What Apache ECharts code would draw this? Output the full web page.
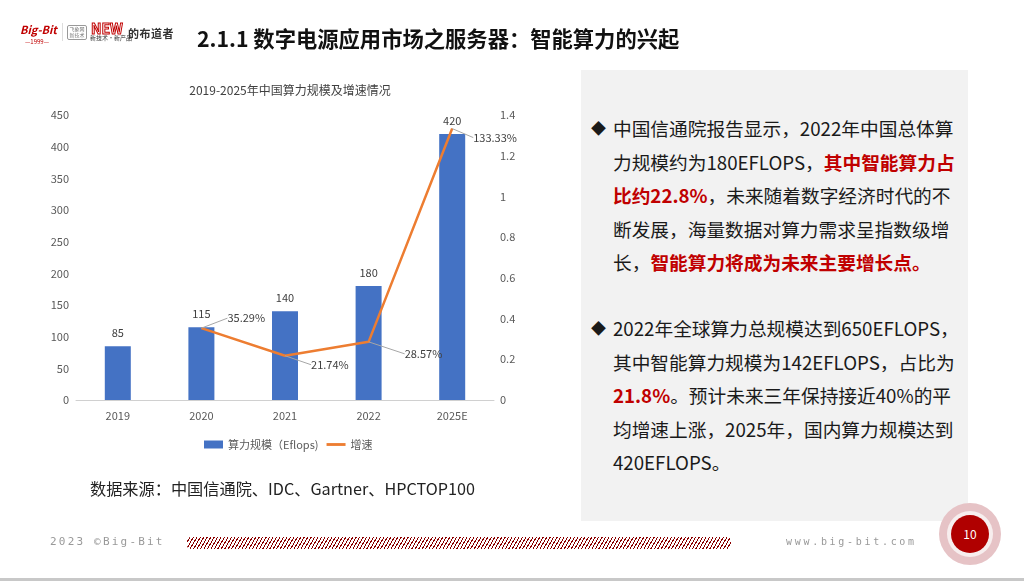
<!DOCTYPE html>
<html><head><meta charset="utf-8">
<script src="https://cdn.jsdelivr.net/npm/echarts@6/dist/echarts.min.js"></script>
<style>
html,body{margin:0;padding:0;width:1024px;height:581px;overflow:hidden;background:#fff;font-family:"Noto Sans CJK SC","Noto Sans",sans-serif;}
#chart{position:absolute;left:0;top:0;width:1024px;height:581px;}
.abs{position:absolute;white-space:nowrap;}
#panel{position:absolute;left:581px;top:70px;width:387px;height:451px;background:#f2f2f2;}
.para{position:absolute;left:32px;font-size:18.7px;line-height:33.5px;color:#1a1a1a;white-space:nowrap;}
.bul{position:absolute;left:-22px;top:0;font-size:15px;}
.red{color:#c00000;font-weight:bold;}
</style></head><body>
<div id="chart"></div>
<!-- header -->
<div class="abs" style="left:20px;top:21px;font-size:11px;font-weight:bold;color:#c00000;font-style:italic;">Big-Bit</div>
<div class="abs" style="left:25px;top:37px;font-size:6px;color:#c00000;">—1999—</div>
<div class="abs" style="left:62px;top:23px;width:1px;height:18px;background:#ddd;"></div>
<div class="abs" style="left:67px;top:25px;width:18px;height:13px;border:1px solid #999;border-radius:2px;font-size:5px;color:#777;line-height:6px;text-align:center;">飞象网<br>新技术</div>
<div class="abs" style="left:91px;top:18px;font-size:14px;font-weight:bold;color:#fff;-webkit-text-stroke:1px #c00000;">NEW</div>
<div class="abs" style="left:90px;top:33px;font-size:6px;color:#333;">新技术·新产品</div>
<div class="abs" style="left:128px;top:25px;font-size:11px;color:#333;font-weight:bold;letter-spacing:0.5px;">的布道者</div>
<div class="abs" style="left:197px;top:22px;font-size:21.3px;font-weight:bold;color:#111;">2.1.1 数字电源应用市场之服务器：智能算力的兴起</div>
<!-- panel -->
<div id="panel">
 <div class="para" style="top:41px;"><span class="bul">◆</span>中国信通院报告显示，2022年中国总体算<br>力规模约为180EFLOPS，<span class="red">其中智能算力占</span><br><span class="red">比约22.8%</span>，未来随着数字经济时代的不<br>断发展，海量数据对算力需求呈指数级增<br>长，<span class="red">智能算力将成为未来主要增长点。</span></div>
 <div class="para" style="top:241px;"><span class="bul">◆</span>2022年全球算力总规模达到650EFLOPS，<br>其中智能算力规模为142EFLOPS，占比为<br><span class="red">21.8%</span>。预计未来三年保持接近40%的平<br>均增速上涨，2025年，国内算力规模达到<br>420EFLOPS。</div>
</div>
<div class="abs" style="left:90px;top:476px;font-size:16.2px;color:#222;">数据来源：中国信通院、IDC、Gartner、HPCTOP100</div>
<!-- footer -->
<div class="abs" style="left:50px;top:535px;font-size:11px;color:#999;letter-spacing:2.2px;font-family:'DejaVu Sans Mono',monospace;">2023 ©Big-Bit</div>
<div class="abs" style="left:187px;top:537px;width:544px;height:12px;border-radius:4px;background:repeating-linear-gradient(-60deg,#8b0000 0 1px,#fff 1px 3px);"></div>
<div class="abs" style="left:786px;top:536px;font-size:10px;color:#999;letter-spacing:2.7px;font-family:'DejaVu Sans Mono',monospace;">www.big-bit.com</div>
<div class="abs" style="left:939px;top:503px;width:62px;height:62px;border-radius:50%;background:#e6c3c6;"></div>
<div class="abs" style="left:947px;top:511px;width:46px;height:46px;border-radius:50%;background:#f7eeee;"></div>
<div class="abs" style="left:951px;top:515px;width:38px;height:38px;border-radius:50%;background:#b00000;color:#fff;font-size:12px;line-height:38px;text-align:center;">10</div>
<div class="abs" style="left:0;top:578px;width:1024px;height:3px;background:#c8c8c8;"></div>
<script>
var categories = ['2019','2020','2021','2022','2025E'];
var scaleValues = [85, 115, 140, 180, 420];
var growthValues = [null, 0.3529, 0.2174, 0.2857, 1.3333];
var leftTicks = [0,50,100,150,200,250,300,350,400,450];
var rightTicks = [0,0.2,0.4,0.6,0.8,1,1.2,1.4];
var labelShift = [[0,0],[22,-10],[22,9],[32,12],[17,9]];

var chart = echarts.init(document.getElementById('chart'));
var txt = '#595959';
chart.setOption({
  animation:false,
  textStyle:{fontFamily:'"Noto Sans CJK SC","Noto Sans",sans-serif'},
  title:{text:'2019-2025年中国算力规模及增速情况',left:285,top:79,textAlign:'center',
    textStyle:{fontSize:12,fontWeight:'normal',color:'#404040'}},
  legend:{top:434,left:199,itemGap:8,itemWidth:19,itemHeight:8,
    textStyle:{fontSize:11,color:txt},
    data:[{name:'算力规模（Eflops)',icon:'rect'},
          {name:'增速',icon:'path://M0,0 L20,0 L20,3 L0,3 Z',itemStyle:{color:'#ED7D31'}}]},
  grid:{left:76,right:530,top:115,bottom:181},
  xAxis:{type:'category',data:categories,
    axisLine:{lineStyle:{color:'#d0d0d0'}},axisTick:{show:false},
    axisLabel:{color:txt,fontSize:11,margin:10}},
  yAxis:[
    {type:'value',min:0,max:450,interval:50,splitLine:{show:false},
     axisLine:{show:false},axisTick:{show:false},
     axisLabel:{color:txt,fontSize:11,margin:7}},
    {type:'value',min:0,max:1.4,interval:0.2,splitLine:{show:false},
     axisLine:{show:false},axisTick:{show:false},
     axisLabel:{color:txt,fontSize:11,margin:6,align:'left',
       formatter:function(v){return String(+v.toFixed(1));}}}
  ],
  series:[
    {name:'算力规模（Eflops)',type:'bar',data:scaleValues,barWidth:26,
     itemStyle:{color:'#4472C4'},
     label:{show:true,position:'top',distance:8,color:'#404040',fontSize:11}},
    {name:'增速',type:'line',yAxisIndex:1,data:growthValues,symbol:'circle',symbolSize:0.1,showSymbol:true,
     lineStyle:{color:'#ED7D31',width:2.5},itemStyle:{color:'#ED7D31'},
     label:{show:true,position:'right',distance:4,color:'#404040',fontSize:11,
       formatter:function(p){return (p.value*100).toFixed(2)+'%';}},
     labelLine:{show:true,lineStyle:{color:'#a6a6a6',width:1}},
     labelLayout:function(p){var s=labelShift[p.dataIndex];return {dx:s[0],dy:s[1]};}}
  ]
});
</script>
</body></html>
